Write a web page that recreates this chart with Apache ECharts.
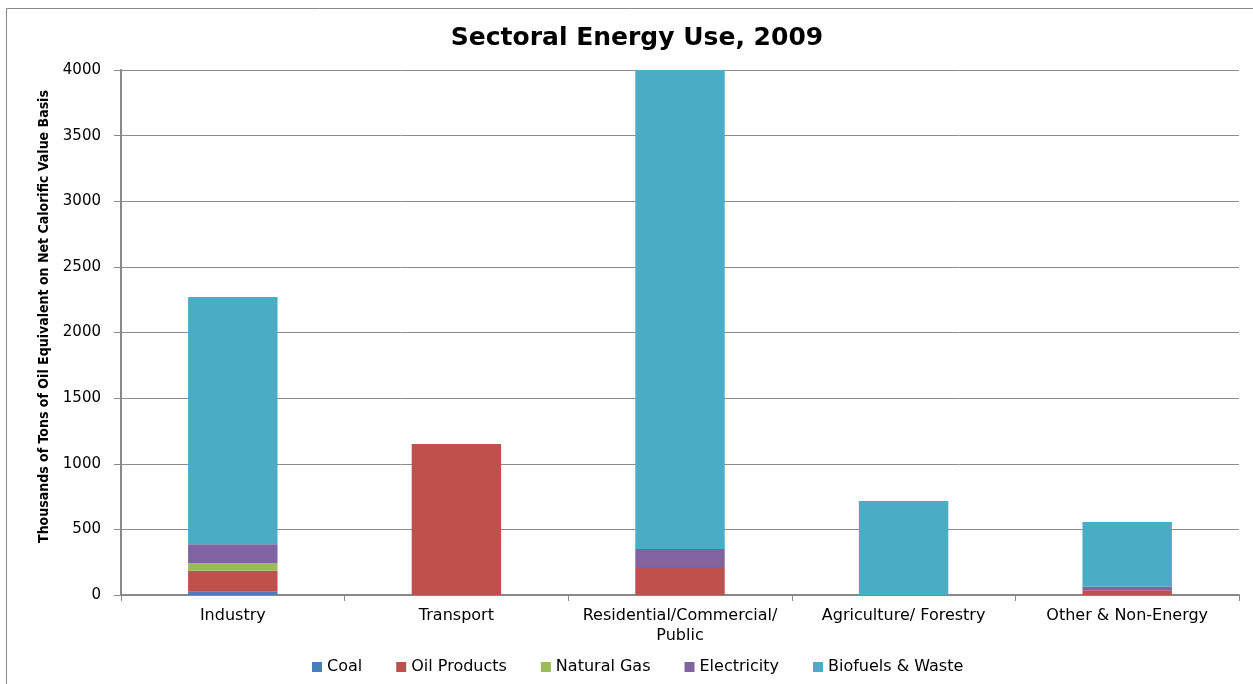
<!DOCTYPE html>
<html><head><meta charset="utf-8">
<script src="https://cdn.jsdelivr.net/npm/echarts@6/dist/echarts.min.js"></script>
<style>html,body{margin:0;padding:0;background:#fff}#c{width:1253px;height:684px}</style>
</head><body><div id="c"></div>
<script>
const categories = ['Industry', 'Transport', 'Residential/Commercial/\nPublic', 'Agriculture/ Forestry', 'Other & Non-Energy'];
const coal        = [25, 0, 0, 0, 0];
const oilProducts = [160, 1150, 213, 0, 36];
const naturalGas  = [56, 0, 0, 0, 0];
const electricity = [145, 0, 137, 0, 27];
const biofuels    = [1885, 0, 3700, 716, 493];
const yTicks = [0, 500, 1000, 1500, 2000, 2500, 3000, 3500, 4000];

const names = ['Coal', 'Oil Products', 'Natural Gas', 'Electricity', 'Biofuels & Waste'];
const colors = ['#4a7ebb', '#c0504d', '#9bbb59', '#8064a2', '#4bacc6'];
const datas = [coal, oilProducts, naturalGas, electricity, biofuels];
const font = '"DejaVu Sans", sans-serif';

const chart = echarts.init(document.getElementById('c'));
chart.setOption({
  animation: false,
  backgroundColor: '#fff',
  title: {
    text: 'Sectoral Energy Use, 2009', left: 632, top: 21, textAlign: 'center',
    textStyle: { fontFamily: font, fontWeight: 'bold', fontSize: 25, color: '#000' }
  },
  graphic: [{
    type: 'rect', shape: { x: 6.5, y: 8.5, width: 1270, height: 700 },
    style: { fill: 'none', stroke: '#888', lineWidth: 1 }, silent: true
  }],
  legend: {
    bottom: 4, left: 307, itemWidth: 10, itemHeight: 10, itemGap: 34,
    icon: 'rect',
    textStyle: { fontFamily: font, fontSize: 16, color: '#000' },
    data: names
  },
  grid: { left: 121, right: 14, top: 70, bottom: 89, containLabel: false },
  xAxis: {
    type: 'category', data: categories,
    axisLine: { lineStyle: { color: '#888', width: 2 } },
    axisTick: { show: true, length: 6, lineStyle: { color: '#888' } },
    axisLabel: { fontFamily: font, fontSize: 16, color: '#000', margin: 11, lineHeight: 20, interval: 0 }
  },
  yAxis: {
    type: 'value', min: 0, max: 4000, interval: 500,
    name: 'Thousands of Tons of Oil Equivalent on Net Calorific Value Basis',
    nameLocation: 'middle', nameGap: 70, nameRotate: 90,
    nameTextStyle: { fontFamily: '"Liberation Sans Narrow", "DejaVu Sans Condensed", sans-serif', fontWeight: 'bold', fontSize: 14, color: '#000', padding: [0, 0, 0, 32] },
    axisLine: { show: true, lineStyle: { color: '#888', width: 2 } },
    axisTick: { show: true, length: 7, lineStyle: { color: '#888' } },
    axisLabel: { fontFamily: font, fontSize: 15, color: '#000', margin: 20, formatter: v => String(v) },
    splitLine: { lineStyle: { color: '#8c8c8c', width: 1 } }
  },
  series: names.map((n, i) => ({
    name: n, type: 'bar', stack: 'total', barWidth: '40%',
    data: datas[i],
    itemStyle: { color: colors[i] },
    clip: true
  }))
});
</script></body></html>
